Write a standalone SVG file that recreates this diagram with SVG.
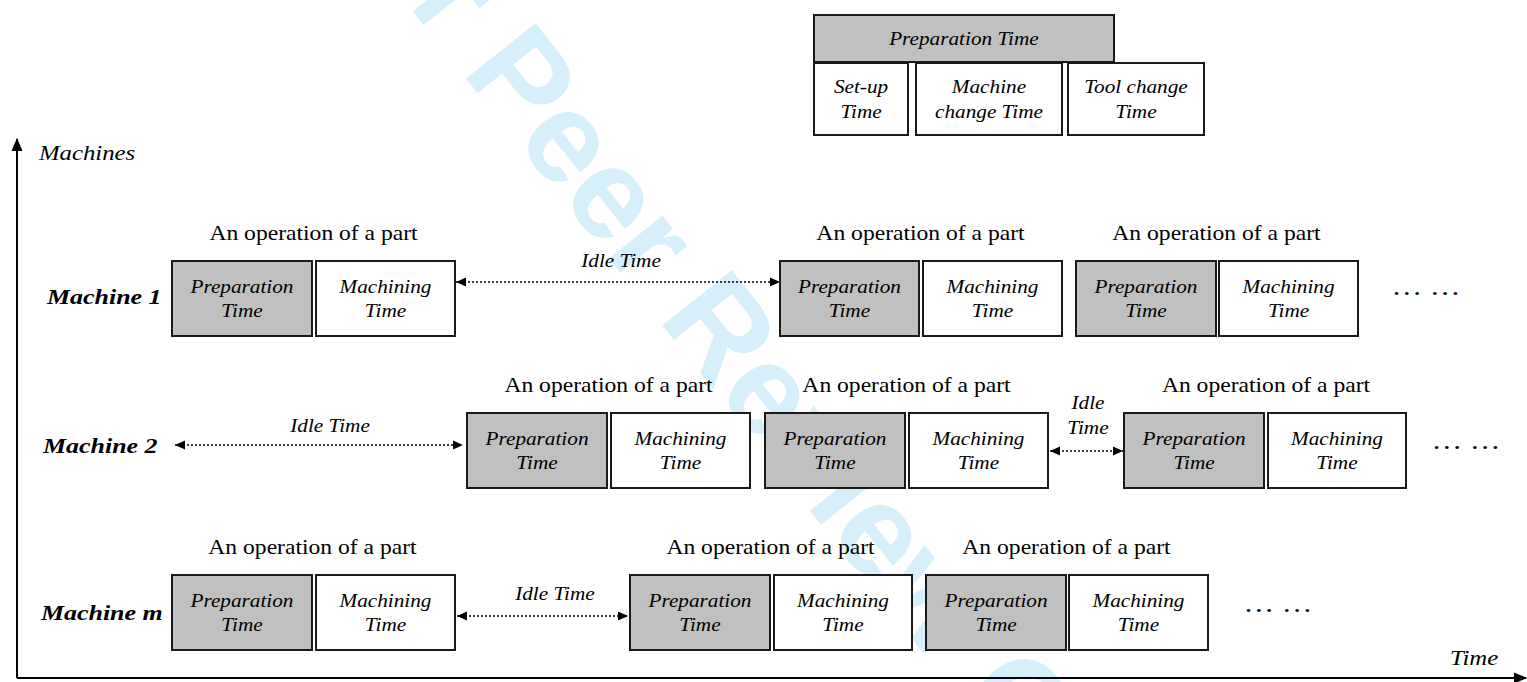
<svg xmlns="http://www.w3.org/2000/svg" width="1527" height="682" viewBox="0 0 1527 682">
<style>
.bg{fill:#ffffff}
.wm{font-family:"Liberation Sans",Arial,sans-serif;font-weight:bold;font-size:129px;fill:#d5effb}
.prep{fill:#c0c0c0;stroke:#1a1a1a;stroke-width:2}
.mach{fill:#ffffff;stroke:#1a1a1a;stroke-width:2}
.bt{font-family:"Liberation Serif","Times New Roman",serif;font-style:italic;font-size:18px;fill:#000;text-anchor:middle}
.op{font-family:"Liberation Serif","Times New Roman",serif;font-size:20px;fill:#000;text-anchor:middle}
.ml{font-family:"Liberation Serif","Times New Roman",serif;font-style:italic;font-weight:bold;font-size:22px;fill:#000}
.ax{font-family:"Liberation Serif","Times New Roman",serif;font-style:italic;font-size:21px;fill:#000}
.dots{font-family:"Liberation Serif","Times New Roman",serif;font-size:26px;fill:#000;text-anchor:middle}
.idle{stroke:#000;stroke-width:1.5;stroke-dasharray:2 2;fill:none;marker-start:url(#ah);marker-end:url(#ah)}
.axis{stroke:#000;stroke-width:2;fill:none;marker-end:url(#axh)}
</style>
<defs>
<marker id="ah" markerUnits="userSpaceOnUse" markerWidth="10" markerHeight="10" refX="10" refY="5" orient="auto-start-reverse">
<path d="M0,0.5 L10,5 L0,9.5 z" fill="#000"/>
</marker>
<marker id="axh" markerUnits="userSpaceOnUse" markerWidth="13" markerHeight="12" refX="12" refY="6" orient="auto">
<path d="M0,0.5 L13,6 L0,11.5 z" fill="#000"/>
</marker>
</defs>
<rect class="bg" x="0" y="0" width="1527" height="682"/>
<text class="wm" transform="translate(309 -119) rotate(51.5)" x="0" y="0">For Peer Review Only</text>

<g id="axes">
<line class="axis" x1="17" y1="678" x2="17" y2="139"/>
<line class="axis" x1="17" y1="678" x2="1526" y2="678"/>
<text class="ax" transform="scale(1.18 1)" x="33" y="160">Machines</text>
<text class="ax" transform="scale(1.18 1)" x="1228.8" y="665">Time</text>
</g>

<g id="legend">
<g id="legend-prep"><rect class="prep" x="814" y="15" width="300" height="47"/><text class="bt" transform="scale(1.18 1)" x="816.9" y="45">Preparation Time</text></g>
<g id="legend-setup"><rect class="mach" x="814" y="63" width="94" height="72"/><text class="bt" transform="scale(1.18 1)" x="729.7" y="93">Set-up</text><text class="bt" transform="scale(1.18 1)" x="729.7" y="118">Time</text></g>
<g id="legend-machchange"><rect class="mach" x="916" y="63" width="146" height="72"/><text class="bt" transform="scale(1.18 1)" x="838.1" y="93">Machine</text><text class="bt" transform="scale(1.18 1)" x="838.1" y="118">change Time</text></g>
<g id="legend-toolchange"><rect class="mach" x="1068" y="63" width="136" height="72"/><text class="bt" transform="scale(1.18 1)" x="962.7" y="93">Tool change</text><text class="bt" transform="scale(1.18 1)" x="962.7" y="118">Time</text></g>
</g>

<g id="labels">
<text class="ml" transform="scale(1.18 1)" x="39.8" y="304">Machine 1</text>
<text class="ml" transform="scale(1.18 1)" x="36.4" y="453">Machine 2</text>
<text class="ml" transform="scale(1.18 1)" x="34.7" y="620">Machine m</text>
</g>

<g id="connectors">
<line class="idle" x1="456" y1="282" x2="780" y2="282"/>
<line class="idle" x1="175" y1="445" x2="463" y2="445"/>
<line class="idle" x1="1050" y1="451" x2="1123" y2="451"/>
<line class="idle" x1="457" y1="616" x2="628" y2="616"/>
<text class="bt" transform="scale(1.18 1)" x="526.3" y="267">Idle Time</text>
<text class="bt" transform="scale(1.18 1)" x="279.7" y="432">Idle Time</text>
<text class="bt" transform="scale(1.18 1)" x="922" y="409">Idle</text>
<text class="bt" transform="scale(1.18 1)" x="922" y="434">Time</text>
<text class="bt" transform="scale(1.18 1)" x="470.3" y="600">Idle Time</text>
</g>

<!-- Machine 1 -->
<g id="m1-op1">
<text class="op" transform="scale(1.18 1)" x="265.7" y="240">An operation of a part</text>
<g id="m1-op1-prep"><rect class="prep" x="172" y="261" width="140" height="75"/><text class="bt" transform="scale(1.18 1)" x="205.1" y="293">Preparation</text><text class="bt" transform="scale(1.18 1)" x="205.1" y="317">Time</text></g>
<g id="m1-op1-mach"><rect class="mach" x="316" y="261" width="139" height="75"/><text class="bt" transform="scale(1.18 1)" x="326.7" y="293">Machining</text><text class="bt" transform="scale(1.18 1)" x="326.7" y="317">Time</text></g>
</g>
<g id="m1-op2">
<text class="op" transform="scale(1.18 1)" x="780.1" y="240">An operation of a part</text>
<g id="m1-op2-prep"><rect class="prep" x="780" y="261" width="139" height="75"/><text class="bt" transform="scale(1.18 1)" x="719.9" y="293">Preparation</text><text class="bt" transform="scale(1.18 1)" x="719.9" y="317">Time</text></g>
<g id="m1-op2-mach"><rect class="mach" x="923" y="261" width="139" height="75"/><text class="bt" transform="scale(1.18 1)" x="841.1" y="293">Machining</text><text class="bt" transform="scale(1.18 1)" x="841.1" y="317">Time</text></g>
</g>
<g id="m1-op3">
<text class="op" transform="scale(1.18 1)" x="1030.9" y="240">An operation of a part</text>
<g id="m1-op3-prep"><rect class="prep" x="1076" y="261" width="140" height="75"/><text class="bt" transform="scale(1.18 1)" x="971.2" y="293">Preparation</text><text class="bt" transform="scale(1.18 1)" x="971.2" y="317">Time</text></g>
<g id="m1-op3-mach"><rect class="mach" x="1219" y="261" width="139" height="75"/><text class="bt" transform="scale(1.18 1)" x="1092" y="293">Machining</text><text class="bt" transform="scale(1.18 1)" x="1092" y="317">Time</text></g>
</g>
<text class="dots" transform="scale(1.18 1)" x="1208.5" y="295">… …</text>

<!-- Machine 2 -->
<g id="m2-op1">
<text class="op" transform="scale(1.18 1)" x="515.7" y="392">An operation of a part</text>
<g id="m2-op1-prep"><rect class="prep" x="467" y="413" width="140" height="75"/><text class="bt" transform="scale(1.18 1)" x="455.1" y="445">Preparation</text><text class="bt" transform="scale(1.18 1)" x="455.1" y="469">Time</text></g>
<g id="m2-op1-mach"><rect class="mach" x="611" y="413" width="139" height="75"/><text class="bt" transform="scale(1.18 1)" x="576.7" y="445">Machining</text><text class="bt" transform="scale(1.18 1)" x="576.7" y="469">Time</text></g>
</g>
<g id="m2-op2">
<text class="op" transform="scale(1.18 1)" x="768.2" y="392">An operation of a part</text>
<g id="m2-op2-prep"><rect class="prep" x="765" y="413" width="140" height="75"/><text class="bt" transform="scale(1.18 1)" x="707.6" y="445">Preparation</text><text class="bt" transform="scale(1.18 1)" x="707.6" y="469">Time</text></g>
<g id="m2-op2-mach"><rect class="mach" x="909" y="413" width="139" height="75"/><text class="bt" transform="scale(1.18 1)" x="829.2" y="445">Machining</text><text class="bt" transform="scale(1.18 1)" x="829.2" y="469">Time</text></g>
</g>
<g id="m2-op3">
<text class="op" transform="scale(1.18 1)" x="1072.9" y="392">An operation of a part</text>
<g id="m2-op3-prep"><rect class="prep" x="1124" y="413" width="140" height="75"/><text class="bt" transform="scale(1.18 1)" x="1011.9" y="445">Preparation</text><text class="bt" transform="scale(1.18 1)" x="1011.9" y="469">Time</text></g>
<g id="m2-op3-mach"><rect class="mach" x="1268" y="413" width="138" height="75"/><text class="bt" transform="scale(1.18 1)" x="1133" y="445">Machining</text><text class="bt" transform="scale(1.18 1)" x="1133" y="469">Time</text></g>
</g>
<text class="dots" transform="scale(1.18 1)" x="1242.4" y="449">… …</text>

<!-- Machine m -->
<g id="mm-op1">
<text class="op" transform="scale(1.18 1)" x="264.8" y="554">An operation of a part</text>
<g id="mm-op1-prep"><rect class="prep" x="172" y="575" width="140" height="75"/><text class="bt" transform="scale(1.18 1)" x="205.1" y="607">Preparation</text><text class="bt" transform="scale(1.18 1)" x="205.1" y="631">Time</text></g>
<g id="mm-op1-mach"><rect class="mach" x="316" y="575" width="139" height="75"/><text class="bt" transform="scale(1.18 1)" x="326.7" y="607">Machining</text><text class="bt" transform="scale(1.18 1)" x="326.7" y="631">Time</text></g>
</g>
<g id="mm-op2">
<text class="op" transform="scale(1.18 1)" x="653" y="554">An operation of a part</text>
<g id="mm-op2-prep"><rect class="prep" x="630" y="575" width="140" height="75"/><text class="bt" transform="scale(1.18 1)" x="593.2" y="607">Preparation</text><text class="bt" transform="scale(1.18 1)" x="593.2" y="631">Time</text></g>
<g id="mm-op2-mach"><rect class="mach" x="774" y="575" width="138" height="75"/><text class="bt" transform="scale(1.18 1)" x="714.4" y="607">Machining</text><text class="bt" transform="scale(1.18 1)" x="714.4" y="631">Time</text></g>
</g>
<g id="mm-op3">
<text class="op" transform="scale(1.18 1)" x="903.8" y="554">An operation of a part</text>
<g id="mm-op3-prep"><rect class="prep" x="926" y="575" width="140" height="75"/><text class="bt" transform="scale(1.18 1)" x="844.1" y="607">Preparation</text><text class="bt" transform="scale(1.18 1)" x="844.1" y="631">Time</text></g>
<g id="mm-op3-mach"><rect class="mach" x="1069" y="575" width="139" height="75"/><text class="bt" transform="scale(1.18 1)" x="964.8" y="607">Machining</text><text class="bt" transform="scale(1.18 1)" x="964.8" y="631">Time</text></g>
</g>
<text class="dots" transform="scale(1.18 1)" x="1083" y="612">… …</text>
</svg>
